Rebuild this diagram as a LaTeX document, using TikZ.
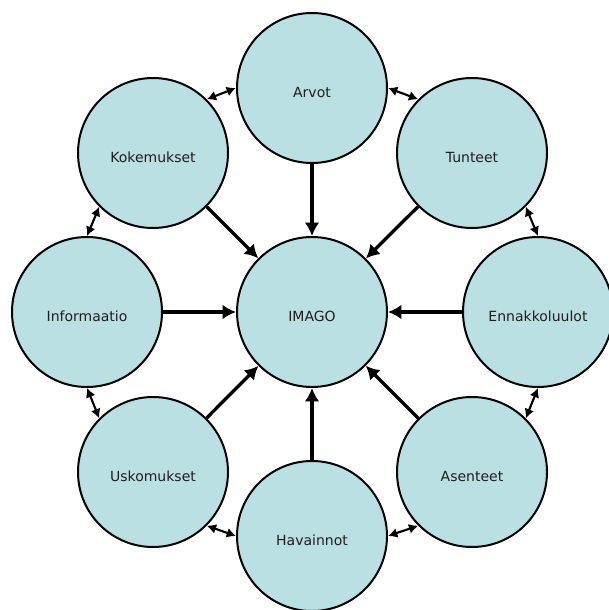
\documentclass[tikz,border=0pt]{standalone}
\usepackage{fontspec}
\setmainfont{DejaVu Sans}
\usepackage{xcolor}
\usepackage{tikz}
\usetikzlibrary{arrows.meta}
\definecolor{Imago-Fill}{RGB}{187, 224, 227}
\definecolor{Imago-Text}{RGB}{ 30,  30,  30}
\tikzstyle{n}=[circle,fill=Imago-Fill,draw=black,line width=1.5pt,inner sep=0pt,minimum size=112.5pt,text=Imago-Text,text height=14pt,text depth=0pt,font=\fontsize{10.5}{12}\selectfont]
\tikzstyle{e}=[line width=2.5pt,arrows={-Latex[length=10pt,width=11pt]}]
\tikzstyle{e-both}=[line width=1.6pt,arrows={Latex[length=7pt,width=7.5pt]-Latex[length=7pt,width=7.5pt]}]

\begin{document}
\begin{tikzpicture}[x=0.75pt,y=-0.75pt]
\useasboundingbox (0,0) rectangle (608,610);

% Nodes
\node[n] (imago)         at (312,312) {IMAGO};
\node[n] (arvot)         at (312, 88) {Arvot};
\node[n] (tunteet)       at (472,153) {Tunteet};
\node[n] (ennakkoluulot) at (538,312) {Ennakkoluulot};
\node[n] (asenteet)      at (472,472) {Asenteet};
\node[n] (havainnot)     at (312,536) {Havainnot};
\node[n] (uskomukset)    at (153,472) {Uskomukset};
\node[n] (informaatio)   at ( 87,312) {Informaatio};
\node[n] (kokemukset)    at (153,153) {Kokemukset};

% Edges
\draw (arvot)         edge[e] (imago)
      (tunteet)       edge[e] (imago)
      (ennakkoluulot) edge[e] (imago)
      (asenteet)      edge[e] (imago)
      (havainnot)     edge[e] (imago)
      (uskomukset)    edge[e] (imago)
      (informaatio)   edge[e] (imago)
      (kokemukset)    edge[e] (imago);

\draw (kokemukset.north east)  edge[e-both] (arvot.west)
      (arvot.east)             edge[e-both] (tunteet.north west)
      (tunteet.south east)     edge[e-both] (ennakkoluulot.north)
      (ennakkoluulot.south)    edge[e-both] (asenteet.north east)
      (asenteet.south west)    edge[e-both] (havainnot.east)
      (havainnot.west)         edge[e-both] (uskomukset.south east)
      (uskomukset.north west)  edge[e-both] (informaatio.south)
      (informaatio.north)      edge[e-both] (kokemukset.south west);

\end{tikzpicture}
\end{document}
